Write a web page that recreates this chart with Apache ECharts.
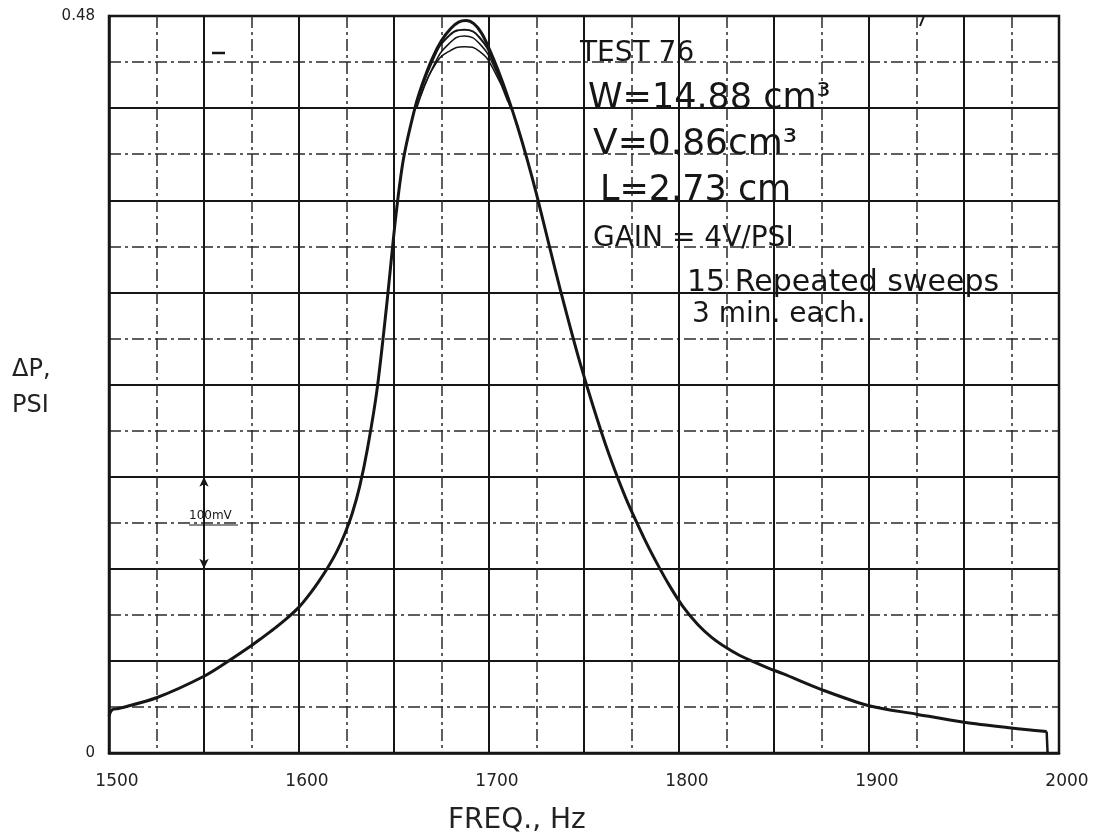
<!DOCTYPE html>
<html>
<head>
<meta charset="utf-8">
<script src="https://cdn.jsdelivr.net/npm/echarts@6/dist/echarts.min.js"></script>
<style>html,body{margin:0;padding:0;background:#fff}#c{width:1102px;height:840px}</style>
</head>
<body>
<div id="c"></div>
<script>
// ---- data ----
const xTickLabels = [1500, 1600, 1700, 1800, 1900, 2000];
const yTickLabels = [0, 0.48];
// main (overlapping) sweeps
const mainFreq = [1500,1501.5,1505,1525,1550,1563,1575,1580,1587,1593,1600,1605,1610,1615,1620,1624,1628,1632,1636,1641,1646,1651,1655,1661,1665,1670,1675,1680,1684,1688,1692,1696,1700,1705,1710,1715,1720,1725,1730,1735,1740,1747,1755,1763,1772,1782,1788,1795,1802,1810,1817,1825,1832,1840,1847,1855,1875,1900,1925,1950,1975,1993.5];
const mainVal  = [0.024,0.028,0.029,0.036,0.050,0.060,0.070,0.0745,0.081,0.087,0.095,0.1025,0.111,0.1205,0.1315,0.1425,0.156,0.174,0.198,0.236,0.290,0.350,0.387,0.420,0.436,0.452,0.464,0.472,0.476,0.477,0.475,0.469,0.459,0.444,0.427,0.408,0.387,0.364,0.339,0.314,0.290,0.258,0.225,0.195,0.166,0.139,0.1245,0.109,0.0955,0.0835,0.0755,0.0685,0.0635,0.059,0.0553,0.0515,0.0413,0.0308,0.0253,0.020,0.0163,0.014];
// pen drop at end of sweep
const dropFreq = [1993.5, 1994];
const dropVal  = [0.014, 0.0];
// lower-peak sweeps near the top
const sweepAFreq = [1661,1670,1678,1687,1695,1703,1712];
const sweepAVal  = [0.419,0.450,0.466,0.471,0.466,0.448,0.419];
const sweepBFreq = [1662,1671,1679,1687,1695,1703,1711];
const sweepBVal  = [0.420,0.448,0.462,0.467,0.462,0.446,0.421];
const sweepCFreq = [1664,1672,1679,1687,1695,1702,1710];
const sweepCVal  = [0.428,0.449,0.457,0.460,0.457,0.446,0.424];
// 100 mV scale arrow
const arrowFreq = [1550, 1550];
const arrowVal  = [0.12, 0.18];

function pairs(f, v){ return f.map((x,i)=>[x, v[i]]); }

const INK = '#161616';
const chart = echarts.init(document.getElementById('c'), null, {renderer:'canvas'});
const font = 'DejaVu Sans';

const option = {
  animation: false,
  backgroundColor: '#ffffff',
  grid: {left: 109, right: 43, top: 16, bottom: 87, show: true, borderColor: INK, borderWidth: 2.5},
  xAxis: {
    type: 'value', min: 1500, max: 2000, interval: 50,
    axisLine: {show: true, lineStyle: {color: INK, width: 2.5}},
    axisTick: {show: false},
    splitLine: {show: true, lineStyle: {color: INK, width: 2}},
    minorTick: {show: false, splitNumber: 2},
    minorSplitLine: {show: true, lineStyle: {color: '#2a2a2a', width: 1.5, type: [12, 4, 3, 4]}},
    axisLabel: {
      color: '#222', fontFamily: font, fontSize: 17, margin: 20, padding: [0,0,0,16],
      formatter: v => xTickLabels.includes(Math.round(v)) && Math.abs(v - Math.round(v)) < 1e-6 ? String(Math.round(v)) : ''
    }
  },
  yAxis: {
    type: 'value', min: 0, max: 0.48, interval: 0.06,
    axisLine: {show: true, lineStyle: {color: INK, width: 2.5}},
    axisTick: {show: false},
    splitLine: {show: true, lineStyle: {color: INK, width: 2}},
    minorTick: {show: false, splitNumber: 2},
    minorSplitLine: {show: true, lineStyle: {color: '#2a2a2a', width: 1.5, type: [12, 4, 3, 4]}},
    axisLabel: {
      color: '#222', fontFamily: font, fontSize: 15, margin: 14,
      formatter: v => {
        for (const t of yTickLabels) if (Math.abs(v - t) < 1e-9) return t === 0 ? '0' : String(t);
        return '';
      }
    }
  },
  series: [
    {type:'line', data: pairs(mainFreq, mainVal), smooth: 0.3, showSymbol: false, lineStyle:{color: INK, width: 3}, z: 5},
    {type:'line', data: pairs(dropFreq, dropVal), smooth: false, showSymbol: false, lineStyle:{color: INK, width: 2.5}, z: 5},
    {type:'line', data: pairs(sweepAFreq, sweepAVal), smooth: 0.5, showSymbol: false, lineStyle:{color: INK, width: 2}, z: 5},
    {type:'line', data: pairs(sweepBFreq, sweepBVal), smooth: 0.5, showSymbol: false, lineStyle:{color: INK, width: 1.5}, z: 5},
    {type:'line', data: pairs(sweepCFreq, sweepCVal), smooth: 0.5, showSymbol: false, lineStyle:{color: INK, width: 1.5}, z: 5},
    {type:'line', data: [], showSymbol: false,
      markLine: {silent: true, symbol: ['arrow','arrow'], symbolSize: [7, 10],
        lineStyle: {color: INK, width: 1.6, type: 'solid'}, label: {show: false},
        data: [[{coord: [arrowFreq[0], arrowVal[0]]}, {coord: [arrowFreq[1], arrowVal[1]]}]]}}
  ],
  graphic: [
    {type:'text', left: 12, top: 352, style:{text:'ΔP,\nPSI', font: '24px "DejaVu Sans"', fill:'#222', lineHeight: 36}},
    {type:'text', left: 448, top: 807, style:{text:'FREQ., Hz', font: '28px "DejaVu Sans"', fill:'#222'}},
    {type:'text', left: 580, top: 40, style:{text:'TEST 76', font: '28px "DejaVu Sans"', fill: INK}},
    {type:'text', left: 588, top: 81, style:{text:'W=14.88 cm³', font: '35px "DejaVu Sans"', fill: INK}},
    {type:'text', left: 593, top: 127, style:{text:'V=0.86cm³', font: '36px "DejaVu Sans"', fill: INK}},
    {type:'text', left: 600, top: 173, style:{text:'L=2.73 cm', font: '35px "DejaVu Sans"', fill: INK}},
    {type:'text', left: 593, top: 225, style:{text:'GAIN = 4V/PSI', font: '28px "DejaVu Sans"', fill: INK}},
    {type:'text', left: 687, top: 268, style:{text:'15 Repeated sweeps', font: '30px "DejaVu Sans"', fill: INK}},
    {type:'text', left: 692, top: 301, style:{text:'3 min. each.', font: '28px "DejaVu Sans"', fill: INK}},
    {type:'text', left: 189, top: 510, style:{text:'100mV', font: '12px "DejaVu Sans"', fill: INK}},
    {type:'line', shape:{x1: 189, y1: 525, x2: 238, y2: 525}, style:{stroke: INK, lineWidth: 1.2}},
    {type:'line', shape:{x1: 212, y1: 53, x2: 225, y2: 53}, style:{stroke: INK, lineWidth: 2.5}},
    {type:'line', shape:{x1: 924, y1: 16, x2: 920, y2: 26}, style:{stroke: INK, lineWidth: 2}}
  ]
};
chart.setOption(option);
</script>
</body>
</html>
